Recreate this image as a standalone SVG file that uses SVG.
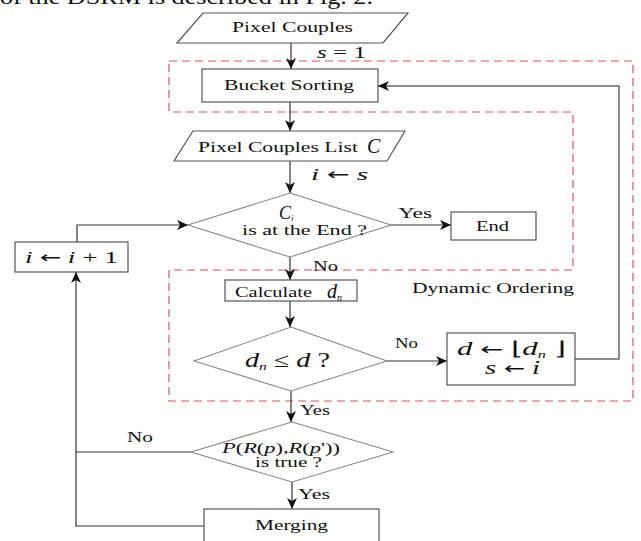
<svg xmlns="http://www.w3.org/2000/svg" width="641" height="541" viewBox="0 0 641 541">
<style>
.t{font-family:"Liberation Serif","Times New Roman",serif;fill:#111;}
.m{font-family:"Liberation Serif","Times New Roman",serif;font-style:italic;fill:#111;}
.ar{font-family:"DejaVu Sans",sans-serif;font-style:normal;}
.box{fill:#fff;stroke:#555;stroke-width:1.2;}
.dia{fill:#fff;stroke:#888;stroke-width:1.1;}
.ln{fill:none;stroke:#333;stroke-width:1.2;}
.gl{fill:none;stroke:#666;stroke-width:1.5;}
.dash{fill:none;stroke:#e0505f;stroke-width:1.2;stroke-dasharray:8 5;}
</style>
<defs>
<marker id="ah" markerUnits="userSpaceOnUse" markerWidth="12" markerHeight="10" refX="11" refY="5" orient="auto">
<path d="M0,0 L11,5 L0,10 L3,5 z" fill="#111"/>
</marker>
</defs>
<rect width="641" height="541" fill="#fff"/>
<text class="t" x="0" y="4" font-size="21" textLength="373" lengthAdjust="spacingAndGlyphs">of the DSRM is described in Fig. 2.</text>

<path id="dynamic-region" class="dash" d="M169,61 H633 V401 H169 V270 H573 V112 H169 Z"/>

<g id="connectors">
<path class="ln" d="M291,43 V69" marker-end="url(#ah)"/>
<path class="ln" d="M290,102 V131" marker-end="url(#ah)"/>
<path class="ln" d="M290,161 V193" marker-end="url(#ah)"/>
<path class="ln" d="M391,225 H451" marker-end="url(#ah)"/>
<path class="ln" d="M290,257 V280" marker-end="url(#ah)"/>
<path class="ln" d="M290,301 V327" marker-end="url(#ah)"/>
<path class="ln" d="M387,361 H447" marker-end="url(#ah)"/>
<path class="gl" d="M575,359 H619 V86 H378" marker-end="url(#ah)"/>
<path class="ln" d="M291,391 V422" marker-end="url(#ah)"/>
<path class="ln" d="M292,482 V509" marker-end="url(#ah)"/>
<path class="ln" d="M191,452 H76"/>
<path class="ln" d="M204,526 H76 V272" marker-end="url(#ah)"/>
<path class="ln" d="M77,242 V225 H188" marker-end="url(#ah)"/>
<text class="m" x="317" y="58" font-size="17" textLength="49" lengthAdjust="spacingAndGlyphs">s <tspan font-style="normal">= 1</tspan></text>
<text class="m" x="311" y="180" font-size="17" textLength="57" lengthAdjust="spacingAndGlyphs">i <tspan class="ar" font-size="16">←</tspan> s</text>
<text class="t" x="398" y="218" font-size="14" textLength="34" lengthAdjust="spacingAndGlyphs">Yes</text>
<text class="t" x="313" y="271" font-size="14" textLength="25" lengthAdjust="spacingAndGlyphs">No</text>
<text class="t" x="395" y="348" font-size="14" textLength="23" lengthAdjust="spacingAndGlyphs">No</text>
<text class="t" x="300" y="415" font-size="14" textLength="30" lengthAdjust="spacingAndGlyphs">Yes</text>
<text class="t" x="298" y="499" font-size="14" textLength="32" lengthAdjust="spacingAndGlyphs">Yes</text>
<text class="t" x="127" y="442" font-size="14" textLength="26" lengthAdjust="spacingAndGlyphs">No</text>
</g>

<g id="pixel-couples">
<polygon class="box" points="203,13 408,13 383,43 177,43"/>
<text class="t" x="232" y="32" font-size="14" textLength="121" lengthAdjust="spacingAndGlyphs">Pixel Couples</text>
</g>

<g id="bucket-sorting">
<rect class="box" x="202" y="69" width="176" height="33"/>
<text class="t" x="224" y="90" font-size="15" textLength="130" lengthAdjust="spacingAndGlyphs">Bucket Sorting</text>
</g>

<g id="pixel-couples-list">
<polygon class="box" points="193,131 405,131 387,161 174,161"/>
<text class="t" x="198" y="152" font-size="15" textLength="160" lengthAdjust="spacingAndGlyphs">Pixel Couples List</text>
<text class="m" x="367" y="153" font-size="20">C</text>
</g>

<g id="is-at-end">
<polygon class="dia" points="290,193 391,225 290,257 188,225"/>
<text class="m" x="279" y="219" font-size="18">C<tspan font-size="9" dy="2">i</tspan></text>
<text class="t" x="242" y="235" font-size="14" textLength="125" lengthAdjust="spacingAndGlyphs">is at the End ?</text>
</g>

<g id="end">
<rect class="box" x="451" y="212" width="85" height="28"/>
<text class="t" x="476" y="231" font-size="14" textLength="33" lengthAdjust="spacingAndGlyphs">End</text>
</g>

<g id="increment">
<rect class="box" x="15" y="242" width="113" height="30"/>
<text class="m" x="25" y="263" font-size="17" textLength="93" lengthAdjust="spacingAndGlyphs">i <tspan class="ar" font-size="16">←</tspan> i <tspan font-style="normal">+ 1</tspan></text>
</g>

<g id="calculate">
<rect class="box" x="225" y="280" width="132" height="21"/>
<text class="t" x="235" y="297" font-size="14" textLength="77" lengthAdjust="spacingAndGlyphs">Calculate</text>
<text class="m" x="327" y="298" font-size="20">d<tspan font-size="10" dy="3">n</tspan></text>
</g>

<text id="dynamic-ordering" class="t" x="412" y="293" font-size="15" textLength="162" lengthAdjust="spacingAndGlyphs">Dynamic Ordering</text>

<g id="dn-le-d">
<polygon class="dia" points="291,327 387,361 291,391 194,361"/>
<text class="m" x="245" y="367" font-size="20" textLength="85" lengthAdjust="spacingAndGlyphs">d<tspan font-size="11" dy="3">n</tspan><tspan dy="-3" font-style="normal"> ≤ </tspan>d<tspan font-style="normal"> ?</tspan></text>
</g>

<g id="update">
<rect class="box" x="447" y="333" width="128" height="52"/>
<text class="m" x="457" y="355" font-size="19" textLength="108" lengthAdjust="spacingAndGlyphs">d <tspan class="ar" font-size="17">←</tspan><tspan font-style="normal"> ⌊</tspan>d<tspan font-size="10" dy="3">n</tspan><tspan dy="-3" font-style="normal"> ⌋</tspan></text>
<text class="m" x="485" y="374" font-size="18" textLength="55" lengthAdjust="spacingAndGlyphs">s <tspan class="ar" font-size="16">←</tspan> i</text>
</g>

<g id="predicate">
<polygon class="dia" points="292,422 393,452 292,482 191,452"/>
<text class="m" x="222" y="453" font-size="15" textLength="118" lengthAdjust="spacingAndGlyphs">P<tspan font-style="normal">(</tspan>R<tspan font-style="normal">(</tspan>p<tspan font-style="normal">),</tspan>R<tspan font-style="normal">(</tspan>p<tspan font-style="normal">'))</tspan></text>
<text class="t" x="255" y="467" font-size="14" textLength="67" lengthAdjust="spacingAndGlyphs">is true ?</text>
</g>

<g id="merging">
<rect class="box" x="204" y="509" width="175" height="40"/>
<text class="t" x="255" y="530" font-size="15" textLength="73" lengthAdjust="spacingAndGlyphs">Merging</text>
</g>
</svg>
